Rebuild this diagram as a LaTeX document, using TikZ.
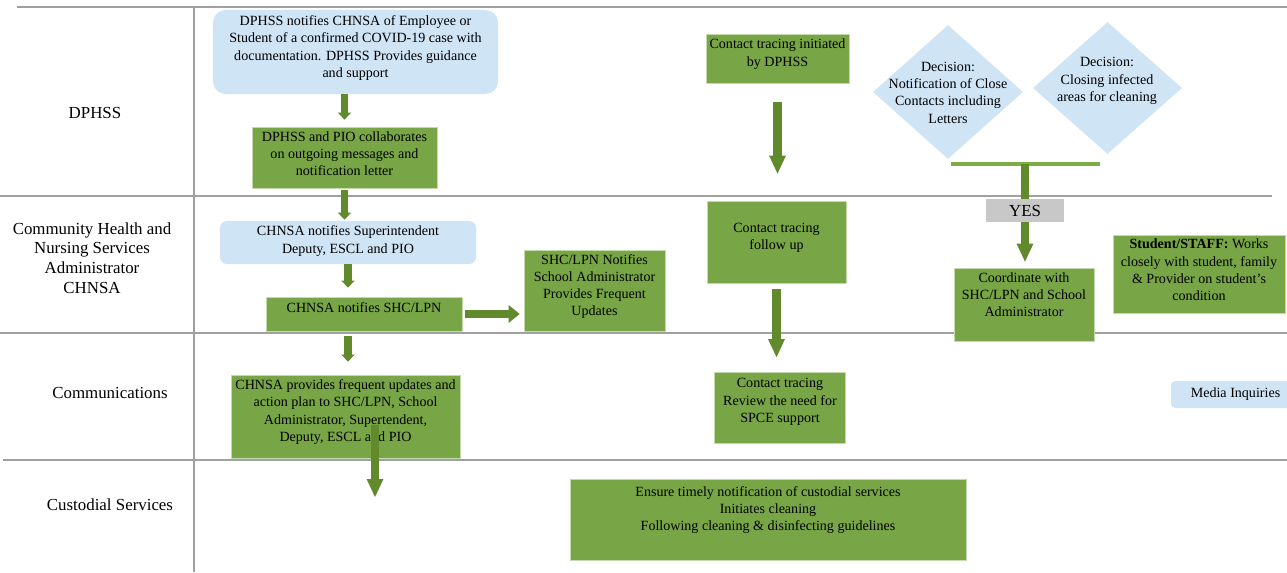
\documentclass[tikz,border=0pt]{standalone}
\usepackage{fontspec}
\setmainfont{Liberation Serif}
\usetikzlibrary{shapes.geometric, arrows.meta}
\definecolor{boxgreen}{RGB}{120,166,70}
\definecolor{boxedge}{RGB}{196,218,172}
\definecolor{arrowgreen}{RGB}{96,138,44}
\definecolor{barcolor}{RGB}{125,172,72}
\definecolor{boxblue}{RGB}{207,228,245}
\definecolor{yesgray}{RGB}{200,200,200}
\definecolor{lanegray}{RGB}{160,160,160}
\newcommand{\boxfont}{\fontsize{10}{12.3}\selectfont}
\newcommand{\lanefont}{\fontsize{12}{14}\selectfont}
\tikzstyle{green box} = [rectangle, fill=boxgreen, draw=boxedge, line width=0.5pt, inner sep=0pt, align=center, font=\boxfont]
\tikzstyle{blue box} = [rectangle, fill=boxblue, inner sep=0pt, align=center, font=\boxfont]
\tikzstyle{decision} = [diamond, fill=boxblue, inner sep=0pt]
\tikzstyle{lane} = [align=center, font=\lanefont]
\tikzstyle{lane line} = [draw=lanegray, line width=1pt]
\tikzstyle{sarrow} = [draw=arrowgreen, line width=5pt, -{Triangle[length=5pt,width=9.5pt,line width=0pt]}]
\tikzstyle{harrow} = [draw=arrowgreen, line width=5.7pt, -{Triangle[length=7.8pt,width=12.8pt,line width=0pt]}]
\tikzstyle{barrow} = [draw=arrowgreen, line width=6.2pt, -{Triangle[length=12.8pt,width=12pt,line width=0pt]}]

\begin{document}
\begin{tikzpicture}[x=0.025cm, y=-0.025cm]
        \useasboundingbox (0,0) rectangle (1287,572);

        % Lane lines
        \draw [lane line] (17,7) -- (1287,7);
        \draw [lane line] (0,196) -- (1272,196);
        \draw [lane line] (0,333) -- (1287,333);
        \draw [lane line] (3,460) -- (1287,460);
        \draw [lane line] (194,7) -- (194,572);

        % Lane titles
        \node (lDPHSS) at (95,113) [lane] {DPHSS};
        \node (lCHNSA) at (92,258) [lane] {Community Health and\\Nursing Services\\Administrator\\CHNSA};
        \node (lComm) at (110,393) [lane] {Communications};
        \node (lCust) at (110,505) [lane] {Custodial Services};

        % Left column
        \node (n1) at (355.5,52) [blue box, rounded corners=9pt, minimum width=7.125cm, minimum height=2.1cm, text depth=0.275cm] {DPHSS notifies CHNSA of Employee or\\Student of a confirmed COVID-19 case with\\documentation. DPHSS Provides guidance\\and support};
        \node (n2) at (344.5,157.5) [green box, minimum width=4.625cm, minimum height=1.525cm, text depth=0.2cm] {DPHSS and PIO collaborates\\on outgoing messages and\\notification letter};
        \node (n3) at (348,242.5) [blue box, rounded corners=5pt, minimum width=6.4cm, minimum height=1.075cm, text depth=0.15cm] {CHNSA notifies Superintendent\\Deputy, ESCL and PIO};
        \node (n4) at (364,314) [green box, minimum width=4.9cm, minimum height=0.85cm, text depth=0.325cm] {CHNSA notifies SHC/LPN};
        \node (n5) at (594.5,290.5) [green box, minimum width=3.525cm, minimum height=2.025cm, text depth=0.275cm] {SHC/LPN Notifies\\School Administrator\\Provides Frequent\\Updates};
        \node (n6) at (345.5,416.5) [green box, minimum width=5.725cm, minimum height=2.075cm, text depth=0.3cm] {CHNSA provides frequent updates and\\action plan to SHC/LPN, School\\Administrator, Supertendent,\\Deputy, ESCL and PIO};

        % Arrows in left column
        \draw [sarrow, shorten >=0.175cm] (n1.south -| n2.north) -- (n2.north);
        \draw [sarrow, shorten <=0.05cm, shorten >=0.025cm] (n2.south) -- (n2.south |- n3.north);
        \draw [sarrow, shorten >=0.225cm] (n3.south) -- (n3.south |- n4.north);
        \draw [harrow, shorten <=0.075cm, shorten >=0.1cm] (n4.east) -- (n4.east -| n5.west);
        \draw [sarrow, shorten <=0.125cm, shorten >=0.325cm] (n3.south |- n4.south) -- (n3.south |- n6.north);
        \coordinate (c6a) at (375,425);
        \coordinate (c6b) at (375,497);
        \draw [barrow] (c6a) -- (c6b);

        % Contact tracing column
        \node (n7) at (777.5,58.5) [green box, minimum width=3.575cm, minimum height=1.225cm, text depth=0.3cm] {Contact tracing initiated\\by DPHSS};
        \node (n8) at (776.5,242) [green box, minimum width=3.475cm, minimum height=2.05cm, text depth=0.275cm] {Contact tracing\\follow up};
        \node (n9) at (780,408) [green box, minimum width=3.275cm, minimum height=1.775cm, text depth=0.375cm] {Contact tracing\\Review the need for\\SPCE support};
        \node (n10) at (768,519.5) [green box, minimum width=9.9cm, minimum height=2.025cm, text depth=0.55cm] {Ensure timely notification of custodial services\\Initiates cleaning\\Following cleaning \& disinfecting guidelines};
        \draw [barrow, shorten <=0.475cm, shorten >=0.675cm] (n7.south) -- (n7.south |- n8.north);
        \draw [barrow, shorten <=0.15cm, shorten >=0.375cm] (n8.south) -- (n8.south |- n9.north);

        % Decisions
        \node (d1) at (948,92) [decision, minimum width=3.75cm, minimum height=3.35cm] {};
        \node (d1t) at (948,92.5) [align=center, font=\boxfont] {Decision:\\Notification of Close\\Contacts including\\Letters};
        \node (d2) at (1107.5,88) [decision, minimum width=3.725cm, minimum height=3.3cm] {};
        \node (d2t) at (1107,81) [align=center, font=\boxfont] {Decision:\\Closing infected\\areas for cleaning};

        % Join bar and YES
        \coordinate (barL) at (951,164);
        \coordinate (barR) at (1100,164);
        \coordinate (bar) at (1025,164);
        \draw [draw=barcolor, line width=3.5pt] (barL) -- (barR);
        \node (yes) at (1025,210.5) [fill=yesgray, inner sep=0pt, minimum width=1.95cm, minimum height=0.575cm, font=\lanefont] {YES};
        \draw [draw=arrowgreen, line width=5.7pt] (bar) -- (yes.north);
        \node (n11) at (1024,304.5) [green box, minimum width=3.5cm, minimum height=1.825cm, text depth=0.5cm] {Coordinate with\\SHC/LPN and School\\Administrator};
        \draw [barrow, line width=5.7pt, shorten >=0.15cm] (yes.south) -- (yes.south |- n11.north);

        % Right side
        \node (n12) at (1199,274) [green box, minimum width=4.3cm, minimum height=1.95cm, text depth=0.2cm] {\textbf{Student/STAFF:} Works\\closely with student, family\\\& Provider on student's\\condition};
        \node (media) at (1235.5,394.5) [blue box, rounded corners=3pt, minimum width=3.225cm, minimum height=0.675cm] {Media Inquiries};
    \end{tikzpicture}
\end{document}
